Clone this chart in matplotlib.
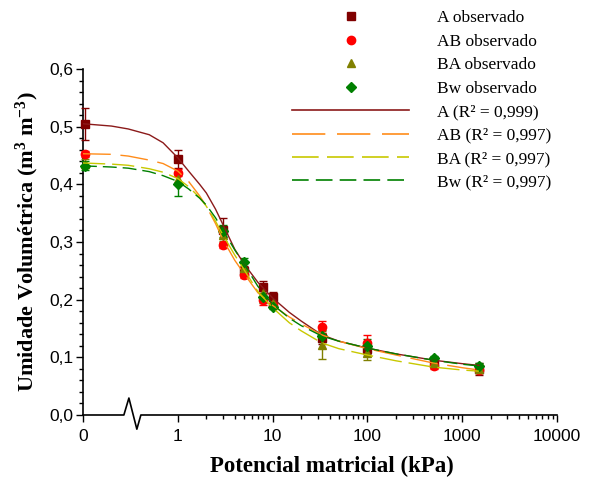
import numpy as np
import matplotlib
matplotlib.use("Agg")
import matplotlib.pyplot as plt
from matplotlib.lines import Line2D
from matplotlib.ticker import FixedLocator, FixedFormatter, MultipleLocator

# observed points (potential in kPa, 0 = saturation)
pot = np.array([0, 1, 3, 5, 8, 10, 33, 100, 500, 1500])
a_obs = [0.504, 0.444, 0.320, 0.250, 0.222, 0.205, 0.133, 0.115, 0.093, 0.080]
a_err = [0.028, 0.015, 0.021, 0.008, 0.010, 0.008, 0.010, 0.010, 0.005, 0.010]
ab_obs = [0.453, 0.420, 0.295, 0.243, 0.200, 0.190, 0.153, 0.125, 0.085, 0.078]
ab_err = [0.005, 0.006, 0.005, 0.005, 0.010, 0.005, 0.010, 0.014, 0.005, 0.005]
ba_obs = [0.436, 0.410, 0.312, 0.255, 0.212, 0.195, 0.121, 0.108, 0.090, 0.080]
ba_err = [0.008, 0.010, 0.010, 0.008, 0.010, 0.005, 0.024, 0.012, 0.005, 0.008]
bw_obs = [0.432, 0.400, 0.319, 0.265, 0.205, 0.188, 0.137, 0.120, 0.098, 0.085]
bw_err = [0.008, 0.020, 0.010, 0.008, 0.010, 0.005, 0.010, 0.012, 0.005, 0.005]

# fitted curves
fit_x = [0.1, 0.2, 0.3, 0.5, 0.7, 1, 1.3, 1.7, 2, 2.5, 3, 4, 5, 7, 10, 15, 20, 33, 50, 100, 200, 500, 1000, 1500]
a_fit = [0.505, 0.501, 0.496, 0.486, 0.472, 0.446, 0.423, 0.400, 0.385, 0.357, 0.330, 0.287, 0.262, 0.230,
         0.203, 0.178, 0.163, 0.139, 0.128, 0.116, 0.106, 0.095, 0.089, 0.086]
ab_fit = [0.453, 0.452, 0.449, 0.442, 0.436, 0.423, 0.405, 0.380, 0.362, 0.332, 0.304, 0.268, 0.245, 0.212,
          0.190, 0.170, 0.158, 0.139, 0.128, 0.115, 0.104, 0.090, 0.082, 0.078]
ba_fit = [0.437, 0.435, 0.433, 0.427, 0.421, 0.410, 0.396, 0.377, 0.362, 0.336, 0.312, 0.277, 0.252, 0.214,
          0.186, 0.160, 0.146, 0.125, 0.115, 0.104, 0.094, 0.083, 0.078, 0.076]
bw_fit = [0.432, 0.430, 0.428, 0.422, 0.415, 0.405, 0.392, 0.376, 0.364, 0.342, 0.320, 0.286, 0.262, 0.223,
          0.192, 0.168, 0.155, 0.137, 0.128, 0.116, 0.106, 0.095, 0.088, 0.085]

labels_obs = ["A observado", "AB observado", "BA observado", "Bw observado"]
labels_fit = ["A (R² = 0,999)", "AB (R² = 0,997)", "BA (R² = 0,997)", "Bw (R² = 0,997)"]

serif = ["Liberation Serif", "DejaVu Serif"]
sans = ["Liberation Sans", "DejaVu Sans"]

plt.rcParams["mathtext.fontset"] = "custom"
plt.rcParams["mathtext.rm"] = "Liberation Serif:bold"
plt.rcParams["mathtext.it"] = "Liberation Serif:bold"
plt.rcParams["mathtext.bf"] = "Liberation Serif:bold"

fig = plt.figure(figsize=(5.94, 4.83), dpi=100)
ax = fig.add_axes([0.1397, 0.1408, 0.798, 0.7164])

x0 = 0.105  # where "0" sits on the log axis
xp = np.where(pot == 0, x0, pot)

obs_style = [
    ("#800000", "s", a_obs, a_err),
    ("#ff0000", "o", ab_obs, ab_err),
    ("#808000", "^", ba_obs, ba_err),
    ("#008000", "D", bw_obs, bw_err),
]
for col, mk, y, e in obs_style:
    ax.errorbar(xp, y, yerr=e, fmt=mk, color=col, ms=6 if mk != "D" else 5.5,
                capsize=3, elinewidth=1, capthick=1, clip_on=False, zorder=3)

fit_style = [
    ("#8b1a1a", (None, None), a_fit),
    ("#ff8c1a", (20, 7), ab_fit),
    ("#c8c800", (16, 5), ba_fit),
    ("#008000", (10, 4.3), bw_fit),
]
for col, dash, y, in fit_style:
    ln, = ax.plot(fit_x, y, color=col, lw=1.0, zorder=4)
    if dash[0] is not None:
        ln.set_dashes(dash)

ax.set_xscale("log")
ax.set_xlim(0.1, 10000)
ax.set_ylim(0, 0.6)

ax.xaxis.set_major_locator(FixedLocator([0.1, 1, 10, 100, 1000, 10000]))
ax.xaxis.set_major_formatter(FixedFormatter(["0", "1", "10", "100", "1000", "10000"]))
minors = [m * 10.0 ** k for k in range(0, 4) for m in range(2, 10)]
ax.xaxis.set_minor_locator(FixedLocator(minors))
ax.yaxis.set_major_locator(MultipleLocator(0.1))
ax.yaxis.set_minor_locator(MultipleLocator(0.02))
ax.set_yticks(ax.get_yticks())
ax.set_yticklabels([f"{v:.1f}".replace(".", ",") for v in ax.get_yticks()])
ax.set_ylim(0, 0.6)

for sp in ["top", "right", "bottom"]:
    ax.spines[sp].set_visible(False)
ax.spines["left"].set_linewidth(1.2)
ax.tick_params(axis="both", which="major", direction="out", length=5, width=1, labelsize=12.5)
ax.tick_params(axis="both", which="minor", direction="out", length=3, width=1)
ax.tick_params(axis="x", which="major", pad=5)
ax.tick_params(axis="y", which="major", pad=2)
for t in ax.get_xticklabels() + ax.get_yticklabels():
    t.set_family(sans)

# bottom axis line with break mark
trans = ax.get_xaxis_transform()
bx = [0.1, 0.27, 0.305, 0.37, 0.408, 10000]
by = [0, 0, 0.049, -0.041, 0, 0]
ax.add_line(Line2D(bx, by, transform=trans, color="black", lw=1.2, clip_on=False))

ax.set_xlabel("Potencial matricial (kPa)", family=serif, fontsize=16.5, fontweight="bold")
ax.xaxis.set_label_coords(0.525, -0.118)
ax.set_ylabel(r"Umidade Volumétrica (m$\mathrm{^3}$ m$\mathrm{^{-3}}$)", family=serif, fontsize=16,
              fontweight="bold", labelpad=6)

handles = []
for col, mk, y, e in obs_style:
    handles.append(Line2D([], [], ls="none", marker=mk, color=col, ms=6 if mk != "D" else 5))
for col, dash, y in fit_style:
    h = Line2D([], [], color=col, lw=1.2)
    if dash[0] is not None:
        h.set_dashes(dash)
    handles.append(h)

fig.legend(handles, labels_obs + labels_fit, loc="upper left", bbox_to_anchor=(0.466, 1.011),
           frameon=False, prop={"family": serif, "size": 12.5}, handlelength=6.7,
           handletextpad=1.6, labelspacing=0.42)

fig.savefig("out.png", dpi=100)
